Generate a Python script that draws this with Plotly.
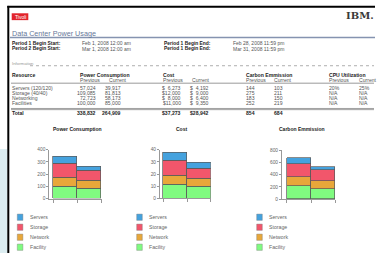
import plotly.graph_objects as go

W, H = 381, 256
FONT = "Liberation Sans"

# ---------------- data ----------------
resources = ["Servers (120/120)", "Storage (40/40)", "Networking", "Facilities"]
power_prev = [57024, 109085, 72723, 100000]
power_curr = [39917, 81813, 58173, 85000]
cost_prev = [6273, 12000, 8000, 11000]
cost_curr = [4192, 9000, 6400, 9350]
carbon_prev = [144, 275, 183, 252]
carbon_curr = [103, 211, 150, 219]
cpu_prev = ["20%", "N/A", "N/A", "N/A"]
cpu_curr = ["25%", "N/A", "N/A", "N/A"]
total_power = [338832, 264909]
total_cost = [37273, 28942]
total_carbon = [854, 684]

periods = ["Previous", "Current"]
series = ["Facility", "Network", "Storage", "Servers"]  # bottom -> top
# chart values
chart_power = {"Facility": [100, 85], "Network": [72.7, 58.2],
               "Storage": [109.1, 81.8], "Servers": [57.0, 39.9]}
chart_cost = {"Facility": [11, 9.35], "Network": [8, 6.4],
              "Storage": [12, 9], "Servers": [6.3, 4.2]}
chart_carbon = {"Facility": [213, 165], "Network": [150, 134],
                "Storage": [202, 170], "Servers": [102, 54]}
chart_titles = ["Power Consumption", "Cost", "Carbon Emmission"]
y_max = [400, 40, 800]
y_step = [100, 10, 200]

colors = {"Servers": "#45a2de", "Storage": "#f2566b",
          "Network": "#e8a73a", "Facility": "#80fb80"}

TS = 5.1  # table font size


def px(x):
    return x / W


def py(y):
    return 1 - y / H


fig = go.Figure()
ann = []
shapes = []


def text(x, y, s, size=5, color="#555", bold=False, anchor="left", family=FONT):
    if bold:
        s = "<b>" + s + "</b>"
    ann.append(dict(x=px(x), y=py(y), xref="paper", yref="paper", text=s,
                    showarrow=False, xanchor=anchor, yanchor="middle",
                    borderpad=0, font=dict(size=size, color=color, family=family)))


def rect(x0, y0, x1, y1, fill, line=None, lw=0):
    shapes.append(dict(type="rect", xref="paper", yref="paper",
                       x0=px(x0), x1=px(x1), y0=py(y1), y1=py(y0),
                       fillcolor=fill, line=dict(color=line or fill, width=lw),
                       layer="below"))


def hline(x0, x1, y, color, w=1, dash=None):
    shapes.append(dict(type="line", xref="paper", yref="paper",
                       x0=px(x0), x1=px(x1), y0=py(y), y1=py(y),
                       line=dict(color=color, width=w, dash=dash)))


def money(v):
    s = f"{v:,}"
    return "$" + "\u2007" * max(0, 6 - len(s)) + s


# ---------------- page frame ----------------
rect(0, 150, 7.3, 256, "#dcedf1")
rect(7.3, 4, 9.3, 256, "#000000")
rect(7.3, 3.8, 375, 5.8, "#000000")
rect(11.7, 11.5, 28.3, 18.5, "#e2242c")
text(20, 15, "Tivoli", size=5, color="#ffffff", anchor="center")
text(375, 13.8, "IBM.", size=10, color="#3a3a3a", bold=True, anchor="right",
     family="DejaVu Serif")
text(11, 32.2, "Data Center Power Usage", size=7.2, color="#667799")
hline(10, 375, 36.3, "#8593b0", 1.5)

# period rows
text(11, 42.3, "Period 1 Begin Start:", size=4.9, color="#222", bold=True)
text(80.7, 42.3, "Feb 1, 2008 12:00 am", size=5, color="#555")
text(163.3, 42.3, "Period 1 Begin End:", size=4.9, color="#222", bold=True)
text(231.7, 42.3, "Feb 28, 2008 11:59 pm", size=5, color="#555")
text(11, 47.7, "Period 2 Begin Start:", size=4.9, color="#222", bold=True)
text(80.7, 47.7, "Mar 1, 2008 12:00 am", size=5, color="#555")
text(163.3, 47.7, "Period 1 Begin End:", size=4.9, color="#222", bold=True)
text(231.7, 47.7, "Mar 31, 2008 11:59 pm", size=5, color="#555")

# ---------------- table ----------------
text(11, 62.3, "Information", size=4.3, color="#999")
hline(30, 374, 65, "#999", 0.8, "dot")

hy, sy = 74.8, 79.6
text(11, hy, "Resource", size=TS, color="#222", bold=True)
text(79.3, hy, "Power Consumption", size=TS, color="#222", bold=True)
text(162.3, hy, "Cost", size=TS, color="#222", bold=True)
text(245, hy, "Carbon Emmission", size=TS, color="#222", bold=True)
text(328.3, hy, "CPU Utilization", size=TS, color="#222", bold=True)
for xl, xr in [(79.3, 107.7), (162.3, 190.7), (245, 272.7), (328.3, 358.3)]:
    text(xl, sy, periods[0], size=TS, color="#555")
    text(xr, sy, periods[1], size=TS, color="#555")
hline(11, 374, 82.8, "#999", 1)

row_y = [87.6, 92.6, 97.6, 102.6]
for i, r in enumerate(resources):
    y = row_y[i]
    text(11, y, r, size=TS)
    text(97.3, y, f"{power_prev[i]:,}", size=TS, anchor="right")
    text(122.3, y, f"{power_curr[i]:,}", size=TS, anchor="right")
    text(181.7, y, money(cost_prev[i]), size=TS, anchor="right")
    text(210, y, money(cost_curr[i]), size=TS, anchor="right")
    text(245, y, str(carbon_prev[i]), size=TS)
    text(272.7, y, str(carbon_curr[i]), size=TS)
    text(328.3, y, cpu_prev[i], size=TS)
    text(358.3, y, cpu_curr[i], size=TS)

hline(11, 374, 108.6, "#888", 0.8)
hline(11, 374, 109.8, "#888", 0.8)
ty = 113
text(11, ty, "Total", size=TS, color="#222", bold=True)
text(97.3, ty, f"{total_power[0]:,}", size=TS, color="#222", bold=True, anchor="right")
text(122.3, ty, f"{total_power[1]:,}", size=TS, color="#222", bold=True, anchor="right")
text(181.7, ty, f"${total_cost[0]:,}", size=TS, color="#222", bold=True, anchor="right")
text(210, ty, f"${total_cost[1]:,}", size=TS, color="#222", bold=True, anchor="right")
text(245, ty, str(total_carbon[0]), size=TS, color="#222", bold=True)
text(272.7, ty, str(total_carbon[1]), size=TS, color="#222", bold=True)

# ---------------- charts ----------------
charts = [chart_power, chart_cost, chart_carbon]
# pixel geometry: (axis x, bar right x, bar left x, y of zero, y of max)
geo = [(49.3, 101.7, 53.3, 200.5, 150.6),
       (160.0, 210.7, 163.3, 200.3, 150.7),
       (282.0, 335.3, 286.7, 201.0, 151.0)]
title_x = [77, 181.7, 302]
legend_sq_x = [17.3, 136.7, 256.7]
legend_tx_x = [29.3, 148.3, 268.3]

xs = list(range(len(periods)))
for k, data in enumerate(charts):
    sfx = "" if k == 0 else str(k + 1)
    for s in series:
        fig.add_trace(go.Bar(
            x=xs, y=data[s], name=s, width=1, showlegend=False,
            marker=dict(color=colors[s], line=dict(color="#5a5a5a", width=0.7)),
            xaxis="x" + sfx, yaxis="y" + sfx, hoverinfo="skip"))
    ax, bxr, bxl, y0p, y1p = geo[k]
    unit = (bxr - bxl) / 2.0
    lo = -0.5 - (bxl - ax) / unit
    fig.layout["xaxis" + sfx] = dict(
        domain=[px(ax), px(bxr)], range=[lo, 1.5], anchor="y" + sfx,
        showgrid=False, zeroline=False, showline=True, linecolor="#999",
        linewidth=1, tickvals=[-0.5, 0.5, 1.5], ticks="outside", ticklen=3,
        tickcolor="#999", showticklabels=False, fixedrange=True)
    fig.layout["yaxis" + sfx] = dict(
        domain=[py(y0p), py(y1p)], range=[0, y_max[k]], anchor="x" + sfx,
        showgrid=False, zeroline=False, showline=True, linecolor="#999",
        linewidth=1, dtick=y_step[k], tick0=0, ticks="outside", ticklen=2,
        tickcolor="#999", tickfont=dict(size=4.8, color="#666", family=FONT),
        fixedrange=True)
    text(title_x[k], 130, chart_titles[k], size=5, color="#222", bold=True,
         anchor="center")
    for j, s in enumerate(reversed(series)):
        cy = 219.5 + 10.2 * j
        rect(legend_sq_x[k], cy - 3.2, legend_sq_x[k] + 5.6, cy + 3.2,
             colors[s], "#7a7a7a", 0.4)
        text(legend_tx_x[k], cy, s, size=5.2, color="#666")

fig.update_layout(
    width=W, height=H, margin=dict(l=0, r=0, t=0, b=0),
    paper_bgcolor="#ffffff", plot_bgcolor="rgba(0,0,0,0)",
    barmode="stack", bargap=0, showlegend=False,
    annotations=ann, shapes=shapes, font=dict(family=FONT))

fig.write_html("out.html", config={"displayModeBar": False},
               post_script="document.body.style.margin='0';"
                           "document.body.style.overflow='hidden';")
